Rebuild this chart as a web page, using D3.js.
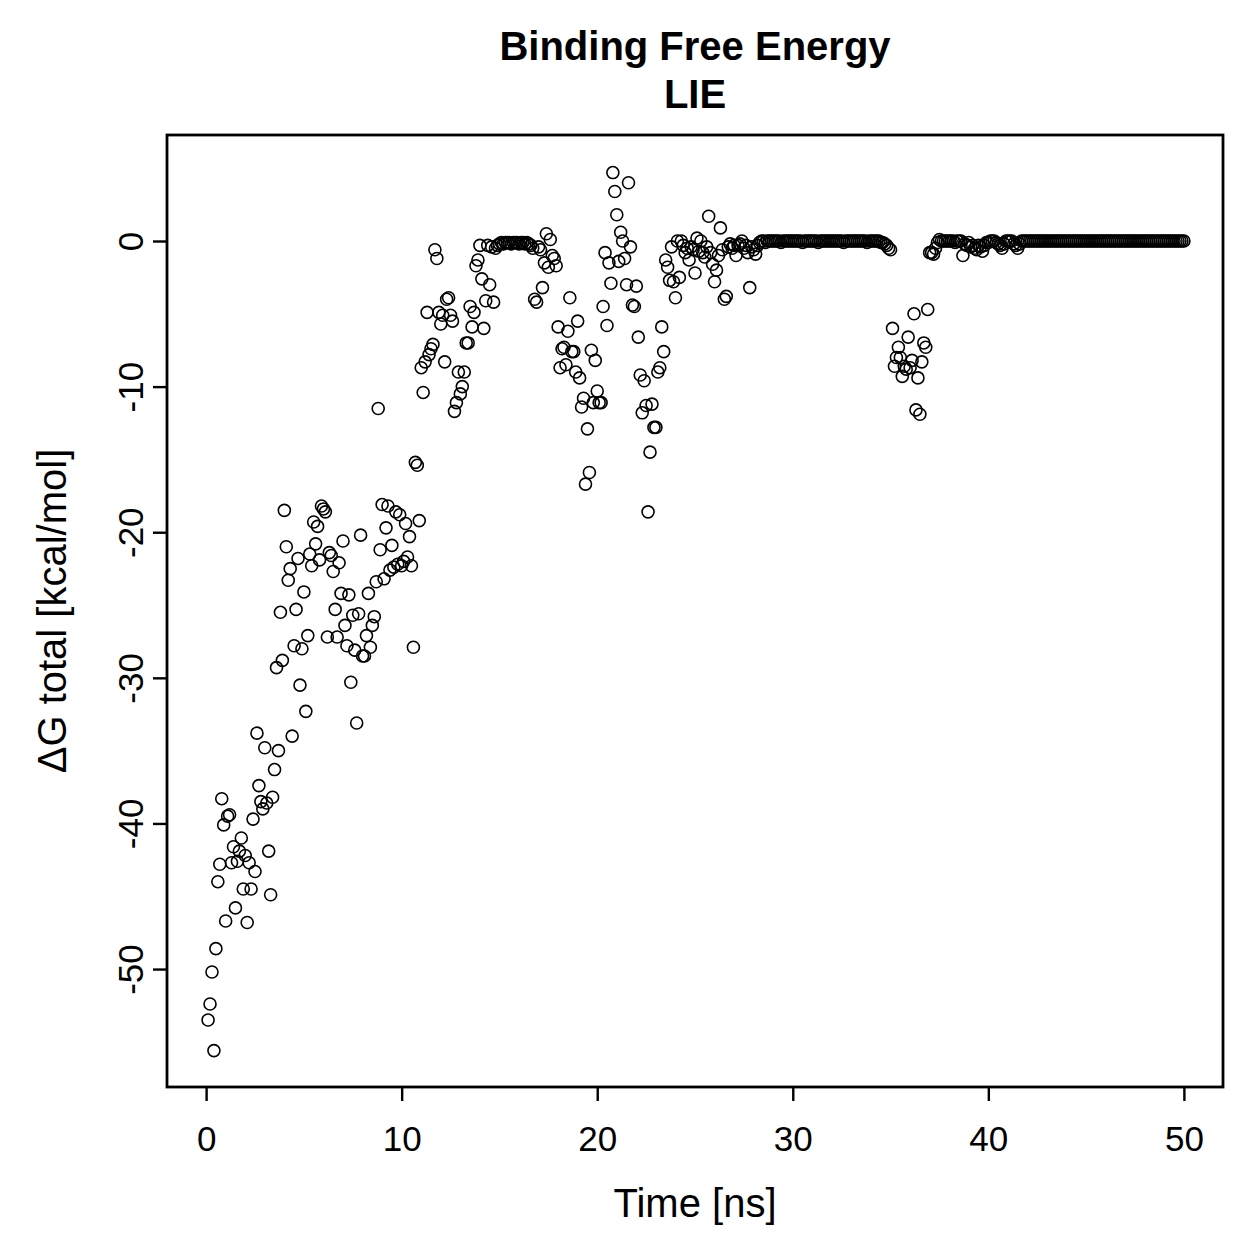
<!DOCTYPE html>
<html>
<head>
<meta charset="utf-8">
<script src="https://cdn.jsdelivr.net/npm/d3@7"></script>
<style>
  body { margin: 0; background: #ffffff; }
  svg { display: block; font-family: 'Liberation Sans', Arial, Helvetica, sans-serif; }
  .axis path.domain { display: none; }
  .axis line { stroke: #000; stroke-width: 2.4px; }
  .axis text { fill: #000; font-size: 35px; }
  .frame { fill: none; stroke: #000; stroke-width: 2.8px; }
  .pt { fill: none; stroke: #000; stroke-width: 1.6px; }
</style>
</head>
<body>
<div id="chart"></div>
<script>
const TITLE_LINES = ['Binding Free Energy', 'LIE'];
const X_LABEL = 'Time [ns]';
const Y_LABEL = 'ΔG total [kcal/mol]';
const X_TICKS = [0, 10, 20, 30, 40, 50];
const Y_TICKS = [0, -10, -20, -30, -40, -50];

// frames every 0.1 ns, first one at 0.1 ns
const T_START = 0.1;
const T_STEP = 0.1;

// dG total per frame, one array per 10 ns
const dG_0_10 = [
  -53.5, -52.4, -50.2, -55.6, -48.6, -44.0, -42.8, -38.3, -40.1, -46.7,
  -39.5, -39.4, -42.7, -41.6, -45.8, -42.6, -41.9, -41.0, -44.5, -42.2,
  -46.8, -42.7, -44.5, -39.7, -43.3, -33.8, -37.4, -38.5, -39.0, -34.8,
  -38.6, -41.9, -44.9, -38.2, -36.3, -29.3, -35.0, -25.5, -28.8, -18.5,
  -21.0, -23.3, -22.5, -34.0, -27.8, -25.3, -21.8, -30.5, -28.0, -24.1,
  -32.3, -27.1, -21.5, -22.3, -19.3, -20.8, -19.6, -21.9, -18.2, -18.4,
  -18.6, -27.2, -21.4, -21.6, -22.7, -25.3, -27.2, -22.1, -24.2, -20.6,
  -26.4, -27.8, -24.3, -30.3, -25.7, -28.1, -33.1, -25.6, -20.2, -28.5,
  -28.5, -27.1, -24.2, -27.9, -26.4, -25.8, -23.4, -11.5, -21.2, -18.1,
  -23.2, -19.7, -18.2, -22.6, -20.9, -22.4, -18.6, -22.2, -18.8, -22.3
];
const dG_10_20 = [
  -22.0, -19.4, -21.7, -20.3, -22.3, -27.9, -15.2, -15.4, -19.2, -8.7,
  -10.4, -8.3, -4.9, -7.8, -7.4, -7.1, -0.6, -1.2, -4.9, -5.7,
  -5.1, -8.3, -4.0, -3.9, -5.1, -5.5, -11.7, -11.1, -9.0, -10.5,
  -10.0, -9.0, -7.0, -7.0, -4.5, -5.9, -4.9, -1.7, -1.3, -0.3,
  -2.6, -6.0, -4.1, -0.3, -3.0, -0.4, -4.2, -0.5, -0.3, -0.2,
  -0.1, -0.2, -0.1, -0.1, -0.1, -0.2, -0.1, -0.1, -0.1, -0.2,
  -0.1, -0.1, -0.2, -0.1, -0.2, -0.3, -0.5, -4.0, -4.2, -0.4,
  -0.6, -3.2, -1.5, 0.5, -1.8, 0.1, -1.0, -1.2, -1.7, -5.9,
  -8.7, -7.4, -7.3, -8.5, -6.2, -3.9, -7.6, -7.6, -9.0, -5.5,
  -9.4, -11.4, -10.8, -16.7, -12.9, -15.9, -7.5, -11.1, -8.2, -10.3
];
const dG_20_30 = [
  -11.1, -11.1, -4.5, -0.8, -5.8, -1.5, -2.9, 4.7, 3.4, 1.8,
  -1.4, 0.6, 0.0, -1.2, -3.0, 4.0, -0.4, -4.4, -4.5, -3.1,
  -6.6, -9.2, -11.8, -9.6, -11.3, -18.6, -14.5, -11.2, -12.8, -12.8,
  -9.0, -8.7, -5.9, -7.6, -1.3, -1.8, -2.7, -0.4, -2.8, -3.9,
  0.0, -2.5, 0.0, -0.3, -0.8, -0.5, -1.3, -0.4, -0.6, -2.2,
  0.2, -0.7, 0.0, -0.8, -1.1, -0.4, 1.7, -0.8, -1.6, -2.8,
  -2.0, -1.0, 0.9, -0.6, -4.0, -3.8, -0.4, -0.2, -0.5, -0.3,
  -1.0, -0.3, -0.2, 0.0, -0.5, -0.3, -0.8, -3.2, -0.4, -0.6,
  -0.9, -0.3, -0.1, 0.0, 0.0, -0.1, 0.0, 0.0, 0.0, 0.0,
  0.0, 0.0, 0.0, -0.1, 0.0, 0.0, 0.0, 0.0, 0.0, 0.0
];
const dG_30_40 = [
  0.0, 0.0, 0.0, 0.0, -0.1, 0.0, 0.0, 0.0, 0.0, 0.0,
  0.0, 0.0, -0.1, 0.0, 0.0, 0.0, 0.0, 0.0, 0.0, 0.0,
  0.0, 0.0, 0.0, 0.0, 0.0, -0.1, 0.0, 0.0, 0.0, 0.0,
  0.0, 0.0, 0.0, 0.0, 0.0, 0.0, 0.0, -0.1, 0.0, 0.0,
  0.0, 0.0, 0.0, 0.0, -0.1, -0.1, -0.2, -0.3, -0.5, -0.6,
  -6.0, -8.6, -8.0, -7.3, -8.0, -9.3, -8.6, -8.8, -6.6, -8.7,
  -8.2, -5.0, -11.6, -9.4, -11.9, -8.3, -7.0, -7.3, -4.7, -0.8,
  -0.8, -0.9, -0.5, -0.1, 0.1, 0.0, 0.0, 0.0, 0.0, 0.0,
  0.0, 0.0, -0.1, 0.0, 0.0, 0.0, -1.0, -0.2, -0.3, -0.1,
  -0.4, -0.3, -0.5, -0.6, -0.3, -0.4, -0.7, -0.3, -0.1, -0.1
];
const dG_40_50 = [
  0.0, 0.0, 0.0, -0.1, -0.2, -0.3, -0.5, -0.2, 0.0, 0.0,
  0.0, 0.0, -0.2, -0.3, -0.5, -0.2, 0.0, 0.0, 0.0, 0.0,
  0.0, 0.0, 0.0, 0.0, 0.0, 0.0, 0.0, 0.0, 0.0, 0.0,
  0.0, 0.0, 0.0, 0.0, 0.0, 0.0, 0.0, 0.0, 0.0, 0.0,
  0.0, 0.0, 0.0, 0.0, 0.0, 0.0, 0.0, 0.0, 0.0, 0.0,
  0.0, 0.0, 0.0, 0.0, 0.0, 0.0, 0.0, 0.0, 0.0, 0.0,
  0.0, 0.0, 0.0, 0.0, 0.0, 0.0, 0.0, 0.0, 0.0, 0.0,
  0.0, 0.0, 0.0, 0.0, 0.0, 0.0, 0.0, 0.0, 0.0, 0.0,
  0.0, 0.0, 0.0, 0.0, 0.0, 0.0, 0.0, 0.0, 0.0, 0.0,
  0.0, 0.0, 0.0, 0.0, 0.0, 0.0, 0.0, 0.0, 0.0, 0.0
];

const dG = [].concat(dG_0_10, dG_10_20, dG_20_30, dG_30_40, dG_40_50);
const dataset = dG.map((v, i) => ({ t: T_START + i * T_STEP, v: v }));

const W = 1259, H = 1259;
// plot box (R style, 4% padding around the data range)
const box = { left: 167, right: 1223, top: 135, bottom: 1087 };

const xScale = d3.scaleLinear().domain([-2, 52]).range([box.left, box.right]);
const yScale = d3.scaleLinear().domain([-58.1, 7.28]).range([box.bottom, box.top]);

const svg = d3.select('#chart')
  .append('svg')
  .attr('width', W)
  .attr('height', H);

svg.append('rect').attr('width', W).attr('height', H).attr('fill', '#ffffff');

// points
svg.append('g')
  .selectAll('circle')
  .data(dataset)
  .enter()
  .append('circle')
  .attr('class', 'pt')
  .attr('cx', d => xScale(d.t))
  .attr('cy', d => yScale(d.v))
  .attr('r', 6);

// frame
svg.append('rect')
  .attr('class', 'frame')
  .attr('x', box.left)
  .attr('y', box.top)
  .attr('width', box.right - box.left)
  .attr('height', box.bottom - box.top);

// x axis
svg.append('g')
  .attr('class', 'x axis')
  .attr('transform', 'translate(0,' + box.bottom + ')')
  .call(d3.axisBottom(xScale).tickValues(X_TICKS).tickSizeInner(14).tickSizeOuter(0).tickFormat(d3.format('d')))
  .call(g => g.selectAll('.tick text').attr('y', 64).attr('dy', 0));

// y axis, labels parallel to the axis
svg.append('g')
  .attr('class', 'y axis')
  .attr('transform', 'translate(' + box.left + ',0)')
  .call(d3.axisLeft(yScale).tickValues(Y_TICKS).tickSizeInner(14).tickSizeOuter(0).tickFormat(d => String(d)))
  .call(g => g.selectAll('.tick text')
    .attr('x', null)
    .attr('dy', 0)
    .attr('text-anchor', 'middle')
    .attr('transform', 'translate(-24,0) rotate(-90)'));

// axis titles
svg.append('text')
  .attr('x', (box.left + box.right) / 2)
  .attr('y', 1217)
  .attr('text-anchor', 'middle')
  .attr('font-size', '40px')
  .text(X_LABEL);

svg.append('text')
  .attr('transform', 'translate(66,' + (box.top + box.bottom) / 2 + ') rotate(-90)')
  .attr('text-anchor', 'middle')
  .attr('font-size', '40px')
  .text(Y_LABEL);

// main title
svg.append('g')
  .selectAll('text')
  .data(TITLE_LINES)
  .enter()
  .append('text')
  .attr('x', (box.left + box.right) / 2)
  .attr('y', (d, i) => 60 + i * 48)
  .attr('text-anchor', 'middle')
  .attr('font-size', '40px')
  .attr('font-weight', 'bold')
  .text(d => d);
</script>
</body>
</html>
